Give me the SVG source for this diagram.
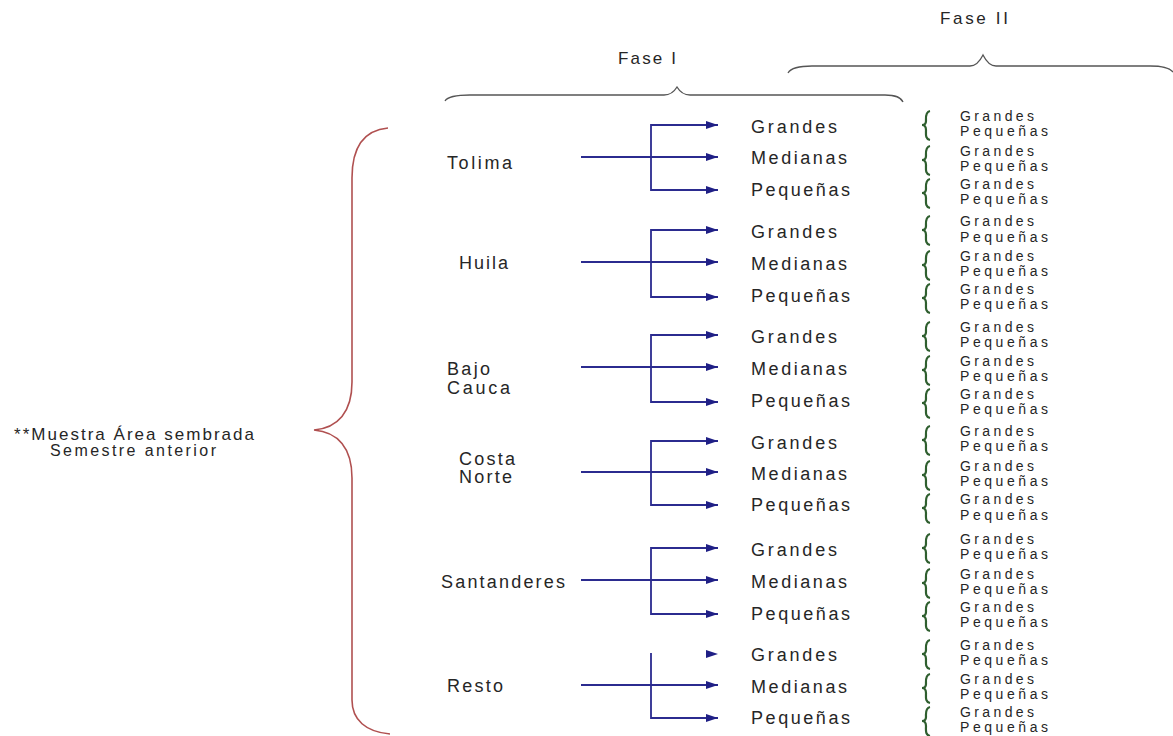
<svg xmlns="http://www.w3.org/2000/svg" width="1173" height="736" viewBox="0 0 1173 736">
<defs>
<style>
.t{font-family:"Liberation Sans",Arial,sans-serif;fill:#262626}
.m{font-size:18px}
.s{font-size:14px}
.c{stroke:#2b2b8f;stroke-width:1.8;fill:none}
.gb{stroke:#2f5f2f;stroke-width:2.2;fill:none}
.br{stroke:#555;stroke-width:1.3;fill:none}
</style>
<marker id="ah" markerUnits="userSpaceOnUse" markerWidth="13" markerHeight="9" refX="12" refY="4.5" orient="auto">
<path d="M0,0.5 L12,4.5 L0,8.5 z" fill="#1f1f85"/>
</marker>
</defs>
<rect width="1173" height="736" fill="#fff"/>

<g id="fase1">
<path class="br" d="M445,101 C448,96 458,95 470,95 L664,95 C670,95 674,92 677,87 C680,92 684,95 690,95 L885,95 C896,95 901,97 903,102"/>
<text class="t" font-size="17" x="618" y="64" textLength="58">Fase I</text>
</g>
<g id="fase2">
<path class="br" d="M788,73 C791,68 800,66 812,66 L970,66 C976,66 980,61 983,55 C986,61 990,66 996,66 L1150,66 C1162,66 1170,68 1173,72"/>
<text class="t" font-size="17" x="940" y="24" textLength="68">Fase II</text>
</g>

<g id="muestra">
<path d="M388,128 C366,130 352,145 352,178 L352,382 C352,412 338,428 314,430 C338,432 352,448 352,478 L352,700 C352,720 366,732 390,734" stroke="#b05050" stroke-width="1.6" fill="none"/>
<text class="t" font-size="17" x="14" y="440" textLength="240">**Muestra Área sembrada</text>
<text class="t" font-size="16" x="50" y="456" textLength="166">Semestre anterior</text>
</g>

<g id="connectors">
<!-- Tolima -->
<line class="c" x1="581" y1="157" x2="718" y2="157" marker-end="url(#ah)"/>
<polyline class="c" points="718,125 651,125 651,190 718,190" marker-end="url(#ah)"/>
<line class="c" x1="651" y1="125" x2="718" y2="125" marker-end="url(#ah)"/>
<!-- Huila -->
<line class="c" x1="581" y1="262" x2="718" y2="262" marker-end="url(#ah)"/>
<polyline class="c" points="718,230 651,230 651,297 718,297" marker-end="url(#ah)"/>
<line class="c" x1="651" y1="230" x2="718" y2="230" marker-end="url(#ah)"/>
<!-- Bajo Cauca -->
<line class="c" x1="581" y1="367" x2="718" y2="367" marker-end="url(#ah)"/>
<polyline class="c" points="718,335 651,335 651,402 718,402" marker-end="url(#ah)"/>
<line class="c" x1="651" y1="335" x2="718" y2="335" marker-end="url(#ah)"/>
<!-- Costa Norte -->
<line class="c" x1="581" y1="472" x2="718" y2="472" marker-end="url(#ah)"/>
<polyline class="c" points="718,441 651,441 651,505 718,505" marker-end="url(#ah)"/>
<line class="c" x1="651" y1="441" x2="718" y2="441" marker-end="url(#ah)"/>
<!-- Santanderes -->
<line class="c" x1="581" y1="580" x2="718" y2="580" marker-end="url(#ah)"/>
<polyline class="c" points="718,548 651,548 651,614 718,614" marker-end="url(#ah)"/>
<line class="c" x1="651" y1="548" x2="718" y2="548" marker-end="url(#ah)"/>
<!-- Resto -->
<line class="c" x1="581" y1="685" x2="718" y2="685" marker-end="url(#ah)"/>
<polyline class="c" points="651,653 651,718 718,718" marker-end="url(#ah)"/>
<polygon points="706,650 718,654 706,658" fill="#1f1f85"/>
</g>

<g id="tolima">
<text class="t m" x="447" y="169" textLength="65">Tolima</text>
<text class="t m" x="751" y="133" textLength="86">Grandes</text>
<text class="t m" x="751" y="164" textLength="96">Medianas</text>
<text class="t m" x="751" y="196" textLength="99">Pequeñas</text>
</g>
<g id="huila">
<text class="t m" x="459" y="269" textLength="49">Huila</text>
<text class="t m" x="751" y="238" textLength="86">Grandes</text>
<text class="t m" x="751" y="270" textLength="96">Medianas</text>
<text class="t m" x="751" y="302" textLength="99">Pequeñas</text>
</g>
<g id="bajocauca">
<text class="t m" x="447" y="375" textLength="43">Bajo</text>
<text class="t m" x="447" y="394" textLength="63">Cauca</text>
<text class="t m" x="751" y="343" textLength="86">Grandes</text>
<text class="t m" x="751" y="375" textLength="96">Medianas</text>
<text class="t m" x="751" y="407" textLength="99">Pequeñas</text>
</g>
<g id="costanorte">
<text class="t m" x="459" y="465" textLength="56">Costa</text>
<text class="t m" x="459" y="483" textLength="53">Norte</text>
<text class="t m" x="751" y="449" textLength="86">Grandes</text>
<text class="t m" x="751" y="480" textLength="96">Medianas</text>
<text class="t m" x="751" y="511" textLength="99">Pequeñas</text>
</g>
<g id="santanderes">
<text class="t m" x="441" y="588" textLength="124">Santanderes</text>
<text class="t m" x="751" y="556" textLength="86">Grandes</text>
<text class="t m" x="751" y="588" textLength="96">Medianas</text>
<text class="t m" x="751" y="620" textLength="99">Pequeñas</text>
</g>
<g id="resto">
<text class="t m" x="447" y="692" textLength="56">Resto</text>
<text class="t m" x="751" y="661" textLength="86">Grandes</text>
<text class="t m" x="751" y="693" textLength="96">Medianas</text>
<text class="t m" x="751" y="724" textLength="99">Pequeñas</text>
</g>

<g id="fase2-detalle">
<g id="p1"><path class="gb" d="M930,111 C925,112 926,118 926,121 C926,124 925,125 922,125 C925,125 926,127 926,130 C926,134 925,139 930,140"/><text class="t s" x="960" y="121" textLength="74">Grandes</text><text class="t s" x="960" y="136" textLength="88">Pequeñas</text></g>
<g id="p2"><path class="gb" d="M930,146 C925,147 926,153 926,156 C926,159 925,160 922,160 C925,160 926,162 926,165 C926,169 925,174 930,175"/><text class="t s" x="960" y="156" textLength="74">Grandes</text><text class="t s" x="960" y="171" textLength="88">Pequeñas</text></g>
<g id="p3"><path class="gb" d="M930,179 C925,180 926,186 926,189 C926,192 925,193 922,193 C925,193 926,195 926,198 C926,202 925,207 930,208"/><text class="t s" x="960" y="189" textLength="74">Grandes</text><text class="t s" x="960" y="204" textLength="88">Pequeñas</text></g>
<g id="p4"><path class="gb" d="M930,216 C925,217 926,223 926,226 C926,229 925,230 922,230 C925,230 926,232 926,235 C926,239 925,244 930,245"/><text class="t s" x="960" y="226" textLength="74">Grandes</text><text class="t s" x="960" y="242" textLength="88">Pequeñas</text></g>
<g id="p5"><path class="gb" d="M930,251 C925,252 926,258 926,261 C926,264 925,265 922,265 C925,265 926,267 926,270 C926,274 925,279 930,280"/><text class="t s" x="960" y="261" textLength="74">Grandes</text><text class="t s" x="960" y="276" textLength="88">Pequeñas</text></g>
<g id="p6"><path class="gb" d="M930,284 C925,285 926,291 926,294 C926,297 925,298 922,298 C925,298 926,300 926,303 C926,307 925,312 930,313"/><text class="t s" x="960" y="294" textLength="74">Grandes</text><text class="t s" x="960" y="309" textLength="88">Pequeñas</text></g>
<g id="p7"><path class="gb" d="M930,322 C925,323 926,329 926,332 C926,335 925,336 922,336 C925,336 926,338 926,341 C926,345 925,350 930,351"/><text class="t s" x="960" y="332" textLength="74">Grandes</text><text class="t s" x="960" y="347" textLength="88">Pequeñas</text></g>
<g id="p8"><path class="gb" d="M930,356 C925,357 926,363 926,366 C926,369 925,370 922,370 C925,370 926,372 926,375 C926,379 925,384 930,385"/><text class="t s" x="960" y="366" textLength="74">Grandes</text><text class="t s" x="960" y="381" textLength="88">Pequeñas</text></g>
<g id="p9"><path class="gb" d="M930,389 C925,390 926,396 926,399 C926,402 925,403 922,403 C925,403 926,405 926,408 C926,412 925,417 930,418"/><text class="t s" x="960" y="399" textLength="74">Grandes</text><text class="t s" x="960" y="414" textLength="88">Pequeñas</text></g>
<g id="p10"><path class="gb" d="M930,426 C925,427 926,433 926,436 C926,439 925,440 922,440 C925,440 926,442 926,445 C926,449 925,454 930,455"/><text class="t s" x="960" y="436" textLength="74">Grandes</text><text class="t s" x="960" y="451" textLength="88">Pequeñas</text></g>
<g id="p11"><path class="gb" d="M930,461 C925,462 926,468 926,471 C926,474 925,475 922,475 C925,475 926,477 926,480 C926,484 925,489 930,490"/><text class="t s" x="960" y="471" textLength="74">Grandes</text><text class="t s" x="960" y="486" textLength="88">Pequeñas</text></g>
<g id="p12"><path class="gb" d="M930,494 C925,495 926,501 926,504 C926,507 925,508 922,508 C925,508 926,510 926,513 C926,517 925,522 930,523"/><text class="t s" x="960" y="504" textLength="74">Grandes</text><text class="t s" x="960" y="520" textLength="88">Pequeñas</text></g>
<g id="p13"><path class="gb" d="M930,534 C925,535 926,541 926,544 C926,547 925,548 922,548 C925,548 926,550 926,553 C926,557 925,562 930,563"/><text class="t s" x="960" y="544" textLength="74">Grandes</text><text class="t s" x="960" y="559" textLength="88">Pequeñas</text></g>
<g id="p14"><path class="gb" d="M930,569 C925,570 926,576 926,579 C926,582 925,583 922,583 C925,583 926,585 926,588 C926,592 925,597 930,598"/><text class="t s" x="960" y="579" textLength="74">Grandes</text><text class="t s" x="960" y="594" textLength="88">Pequeñas</text></g>
<g id="p15"><path class="gb" d="M930,602 C925,603 926,609 926,612 C926,615 925,616 922,616 C925,616 926,618 926,621 C926,625 925,630 930,631"/><text class="t s" x="960" y="612" textLength="74">Grandes</text><text class="t s" x="960" y="627" textLength="88">Pequeñas</text></g>
<g id="p16"><path class="gb" d="M930,640 C925,641 926,647 926,650 C926,653 925,654 922,654 C925,654 926,656 926,659 C926,663 925,668 930,669"/><text class="t s" x="960" y="650" textLength="74">Grandes</text><text class="t s" x="960" y="665" textLength="88">Pequeñas</text></g>
<g id="p17"><path class="gb" d="M930,674 C925,675 926,681 926,684 C926,687 925,688 922,688 C925,688 926,690 926,693 C926,697 925,702 930,703"/><text class="t s" x="960" y="684" textLength="74">Grandes</text><text class="t s" x="960" y="699" textLength="88">Pequeñas</text></g>
<g id="p18"><path class="gb" d="M930,707 C925,708 926,714 926,717 C926,720 925,721 922,721 C925,721 926,723 926,726 C926,730 925,735 930,736"/><text class="t s" x="960" y="717" textLength="74">Grandes</text><text class="t s" x="960" y="732" textLength="88">Pequeñas</text></g>
</g>
</svg>
